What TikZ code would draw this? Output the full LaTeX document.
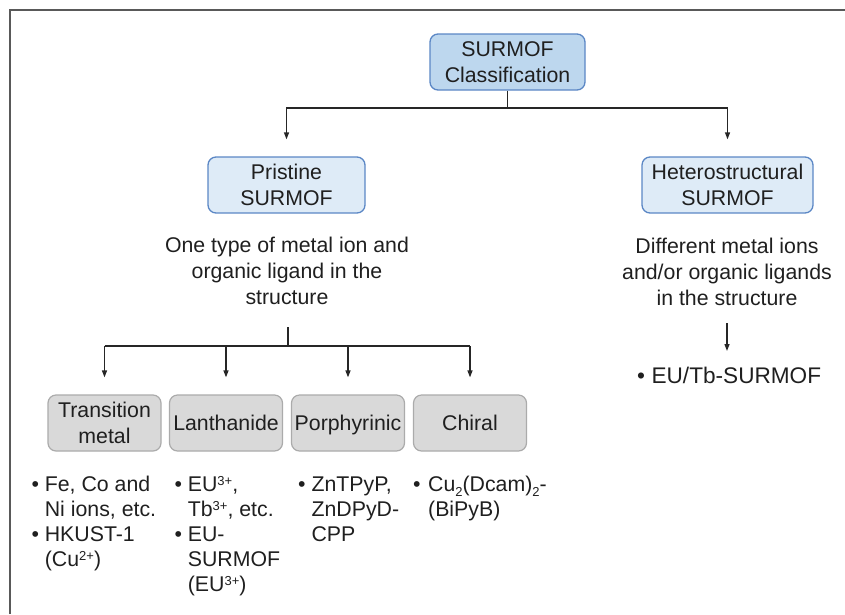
\documentclass[tikz,border=0pt]{standalone}
\usepackage{fontspec}
\setmainfont{Liberation Sans}
\usetikzlibrary{arrows.meta,calc}
\definecolor{txt}{HTML}{1F1F1F}
\definecolor{rootfill}{HTML}{BDD7EE}
\definecolor{bluefill}{HTML}{DEEBF7}
\definecolor{blueedge}{HTML}{5B87C5}
\definecolor{grayfill}{HTML}{D9D9D9}
\definecolor{grayedge}{HTML}{ABABAB}
\definecolor{framec}{HTML}{595959}
\definecolor{linec}{HTML}{262626}
\newcommand{\mysup}[1]{\smash{\raisebox{0.29em}{\fontsize{13}{13}\selectfont #1}}}
\newcommand{\mysub}[1]{\smash{\raisebox{-0.22em}{\fontsize{13}{13}\selectfont #1}}}
\tikzset{
  basefont/.style={font=\fontsize{21.3}{26}\selectfont, text=txt},
  listfont/.style={font=\fontsize{21.3}{25}\selectfont, text=txt, inner sep=0pt, anchor=base west},
  bluebox/.style={basefont, draw=blueedge, line width=1.3pt, rounded corners=8pt,
                  align=center, inner sep=0pt, minimum height=56pt},
  graybox/.style={basefont, draw=grayedge, fill=grayfill, line width=1.2pt, rounded corners=8pt,
                  align=center, inner sep=0pt, minimum height=56pt, minimum width=113pt},
  desc/.style={basefont, inner sep=0pt, anchor=base},
  conn/.style={draw=linec, line width=1.3pt},
  arr/.style={conn, -{Triangle[length=7pt,width=5pt]}, shorten >=17pt},
  framel/.style={draw=framec, line width=2pt}
}
\begin{document}
\begin{tikzpicture}[x=1pt,y=-1pt]
\useasboundingbox (0,0) rectangle (845,614);
\draw[framel] (10,614) -- (10,10) -- (845,10);

% top level
\node[bluebox, fill=rootfill, minimum width=155pt] (root) at (507.5,62) {SURMOF\\Classification};
\node[bluebox, fill=bluefill, minimum width=157pt] (pri) at (286.5,185) {Pristine\\SURMOF};
\node[bluebox, fill=bluefill, minimum width=171pt] (het) at (727.5,185) {Heterostructural\\SURMOF};

\coordinate (bus1) at (507.5,108);
\draw[conn] (root.south) -- (bus1);
\draw[arr] (bus1) -| (pri.north);
\draw[arr] (bus1) -| (het.north);

% descriptions
\node[desc] (pdesc) at (287,252) {\begin{tabular}[t]{@{}c@{}}One type of metal ion and\\organic ligand in the\\structure\end{tabular}};
\node[desc] (hdesc) at (727,253) {\begin{tabular}[t]{@{}c@{}}Different metal ions\\and/or organic ligands\\in the structure\end{tabular}};

% heterostructural example
\node[listfont, font=\fontsize{22.6}{26}\selectfont] (eutb) at (637,383) {\textbullet\hspace{6.5pt}EU/Tb-SURMOF};
\coordinate (hd) at (727,323);
\coordinate (ht) at (727,368);
\draw[arr] (hd) -- (ht);

% pristine categories
\node[graybox] (tm) at (104.5,423) {Transition\\metal};
\node[graybox] (lan) at (226,423) {Lanthanide};
\node[graybox, text depth=0pt] (por) at (348,423) {Porphyrinic};
\node[graybox] (chi) at (470,423) {Chiral};

\coordinate (pd) at (288,327);
\coordinate (bus2) at (288,346);
\draw[conn] (pd) -- (bus2);
\draw[conn] (tm.north |- bus2) -- (chi.north |- bus2);
\foreach \b in {tm,lan,por,chi}{
  \draw[arr] (\b.north |- bus2) -- (\b.north);
}

% lists
\node[listfont] (tml) at (31.3,491.7) {\begin{tabular}[t]{@{}l@{\hspace{5.9pt}}l@{}}
\textbullet & Fe, Co and\\ & Ni ions, etc.\\ \textbullet & HKUST-1\\ & (Cu\mysup{2+})\end{tabular}};
\node[listfont] (lanl) at (174.3,491.7) {\begin{tabular}[t]{@{}l@{\hspace{5.9pt}}l@{}}
\textbullet & EU\mysup{3+},\\ & Tb\mysup{3+}, etc.\\ \textbullet & EU-\\ & SURMOF\\ & (EU\mysup{3+})\end{tabular}};
\node[listfont] (porl) at (298,491.7) {\begin{tabular}[t]{@{}l@{\hspace{5.9pt}}l@{}}
\textbullet & ZnTPyP,\\ & ZnDPyD-\\ & CPP\end{tabular}};
\node[listfont] (chil) at (413,491.7) {\begin{tabular}[t]{@{}l@{\hspace{7.5pt}}l@{}}
\textbullet & Cu\mysub{2}(Dcam)\mysub{2}-\\ & (BiPyB)\end{tabular}};
\end{tikzpicture}
\end{document}
